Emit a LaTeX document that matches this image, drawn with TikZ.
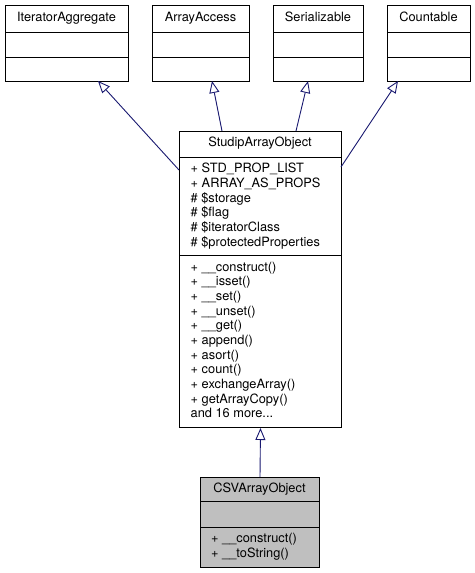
\documentclass[tikz,border=0pt]{standalone}
\usepackage{fontspec}
\setmainfont{TeX Gyre Heros}
\usetikzlibrary{arrows.meta}
\definecolor{edgeblue}{HTML}{191970}
\definecolor{boxgray}{HTML}{BFBFBF}
\tikzset{
  umlbox/.style={draw=black, line width=1pt, inner sep=0pt, anchor=north west},
  sepline/.style={draw=black, line width=1pt},
  lbl/.style={inner sep=0pt, font=\fontsize{12.8}{14.67}\selectfont},
  inh/.style={draw=edgeblue, line width=0.9pt, -{Triangle[open, length=12pt, width=10pt, fill=white]}},
}
\begin{document}
\begin{tikzpicture}[x=1pt, y=-1pt]
\useasboundingbox (0,0) rectangle (474,573);
% top boxes
\node[umlbox, minimum width=123pt, minimum height=76pt] (ia) at (5,5) {};
\node[umlbox, minimum width=97pt, minimum height=76pt] (aa) at (152,5) {};
\node[umlbox, minimum width=90pt, minimum height=76pt] (se) at (273,5) {};
\node[umlbox, minimum width=83pt, minimum height=76pt] (co) at (387,5) {};
\foreach \b in {ia,aa,se,co}{
  \draw[sepline] (\b.west |- 0,32) -- (\b.east |- 0,32);
  \draw[sepline] (\b.west |- 0,57) -- (\b.east |- 0,57);
}
\node[lbl, anchor=base] (iat) at (66.5,21.8) {IteratorAggregate};
\node[lbl, anchor=base] (aat) at (200.5,21.8) {ArrayAccess};
\node[lbl, anchor=base] (set) at (318,21.8) {Serializable};
\node[lbl, anchor=base] (cot) at (428.5,21.8) {Countable};
% StudipArrayObject
\node[umlbox, fill=white, minimum width=162pt, minimum height=296pt] (sa) at (179,131) {};
\draw[sepline] (sa.west |- 0,157) -- (sa.east |- 0,157);
\draw[sepline] (sa.west |- 0,255) -- (sa.east |- 0,255);
\node[lbl, anchor=base] (sat) at (260,146.2) {StudipArrayObject};
\foreach \t [count=\i from 0] in {+ STD\_PROP\_LIST, + ARRAY\_AS\_PROPS, \# \$storage, \# \$flag, \# \$iteratorClass, \# \$protectedProperties}{
  \node[lbl, anchor=base west] (saa\i) at (190.5,172.8+14.67*\i) {\t};
}
\foreach \t [count=\i from 0] in {+ \_\_construct(), + \_\_isset(), + \_\_set(), + \_\_unset(), + \_\_get(), + append(), + asort(), + count(), + exchangeArray(), + getArrayCopy()}{
  \node[lbl, anchor=base west] (sam\i) at (190.5,271.2+14.67*\i) {\t};
}
\node[lbl, anchor=base west] (sam10) at (190.5,417.9) {and 16 more...};
% CSVArrayObject
\node[umlbox, fill=boxgray, minimum width=119pt, minimum height=90pt] (csv) at (200,477) {};
\draw[sepline] (csv.west |- 0,501) -- (csv.east |- 0,501);
\draw[sepline] (csv.west |- 0,527) -- (csv.east |- 0,527);
\node[lbl, anchor=base] (csvt) at (259.5,492.8) {CSVArrayObject};
\node[lbl, anchor=base west] (csvm0) at (211,542.8) {+ \_\_construct()};
\node[lbl, anchor=base west] (csvm1) at (211,557.5) {+ \_\_toString()};
% connector end points
\coordinate (s1) at (179,170);
\coordinate (s2) at (222,131);
\coordinate (s3) at (296,131);
\coordinate (s4) at (341,167);
\coordinate (t1) at (98,81);
\coordinate (t2) at (212,81);
\coordinate (t3) at (308,81);
\coordinate (t4) at (398,81);
\draw[inh] (s1) -- (t1);
\draw[inh] (s2) -- (t2);
\draw[inh] (s3) -- (t3);
\draw[inh] (s4) -- (t4);
\draw[inh] (csv.north) -- (sa.south);
\end{tikzpicture}
\end{document}
